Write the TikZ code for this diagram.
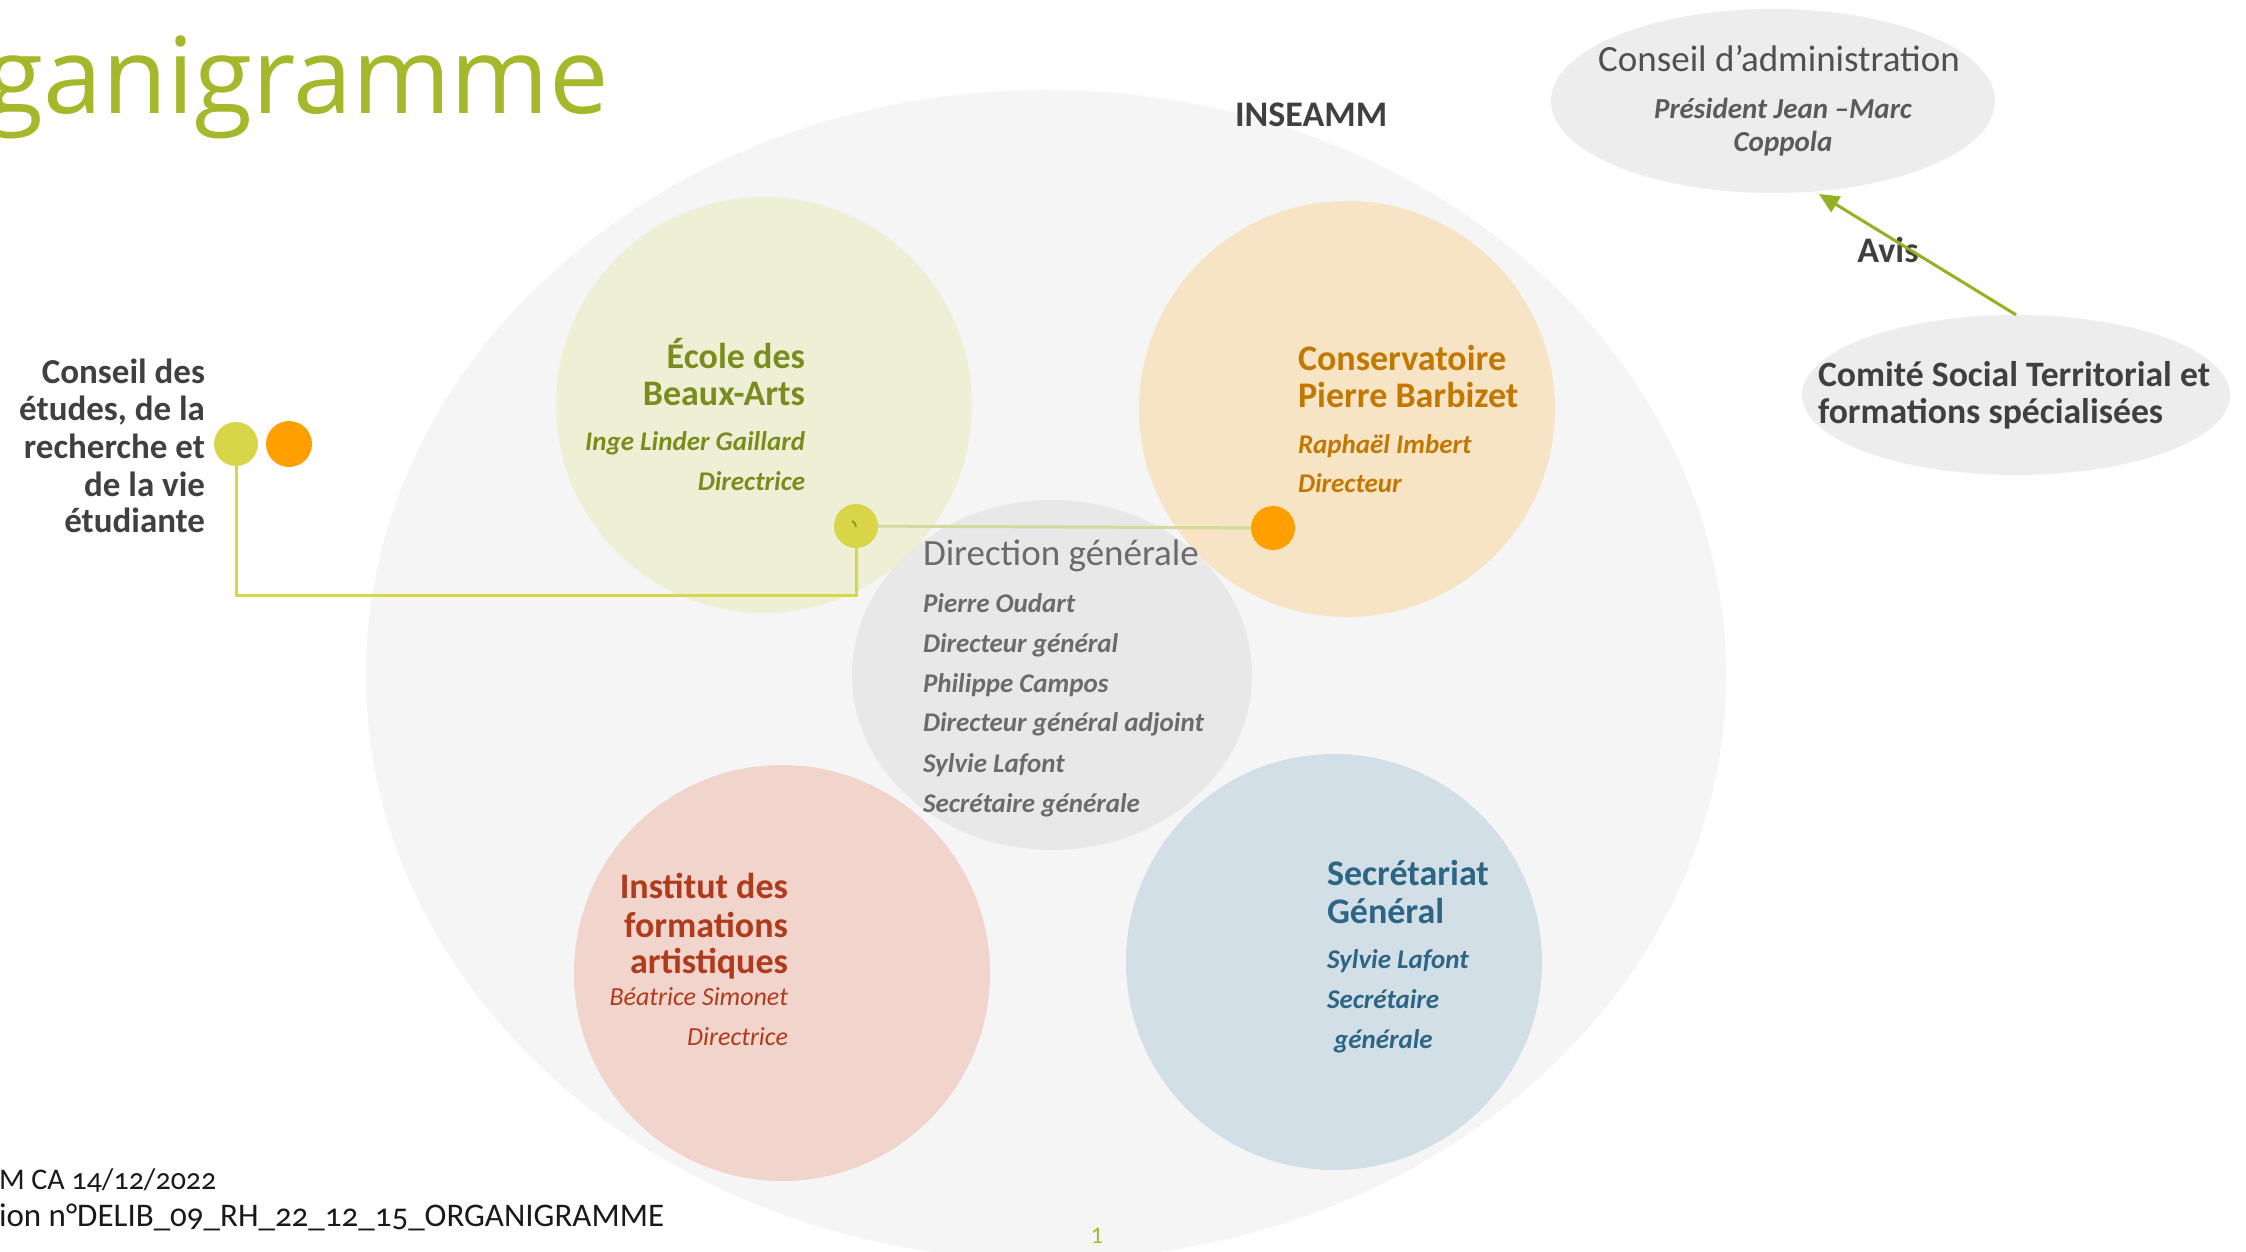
\documentclass[tikz,border=0pt]{standalone}
\usepackage{fontspec}
\setmainfont{Carlito}
\newfontfamily\titlefont{Open Sans}
\newfontfamily\footfont{Carlito}[Numbers=OldStyle]
\usetikzlibrary{arrows.meta,shapes.geometric}

\definecolor{bigbg}{HTML}{F5F5F5}
\definecolor{ellgray}{HTML}{EDEDED}
\definecolor{dggray}{HTML}{E8E8E8}
\definecolor{txtdark}{HTML}{404040}
\definecolor{txtmid}{HTML}{505050}
\definecolor{txtgray}{HTML}{6B6B6B}
\definecolor{titlegreen}{HTML}{A5B82B}
\definecolor{ecolefill}{HTML}{EEF0D6}
\definecolor{ecoletxt}{HTML}{7A8C1E}
\definecolor{consfill}{HTML}{F6E4C5}
\definecolor{constxt}{HTML}{C27800}
\definecolor{instfill}{HTML}{F1D4CC}
\definecolor{insttxt}{HTML}{B03A1C}
\definecolor{secfill}{HTML}{D2DFE7}
\definecolor{sectxt}{HTML}{2D6585}
\definecolor{dotgreen}{HTML}{D8D548}
\definecolor{dotorange}{HTML}{FFA000}
\definecolor{arrowgreen}{HTML}{95B021}
\definecolor{linepale}{HTML}{D5D99B}
\definecolor{ticko}{HTML}{8CA020}

\tikzset{
  unitcircle/.style={circle, minimum size=416pt, inner sep=0pt, draw=none},
  blob/.style={ellipse, inner sep=0pt, draw=none},
  dotnode/.style={circle, minimum size=44pt, inner sep=0pt, draw=none},
  lbl/.style={inner sep=0pt, outer sep=0pt},
  hd/.style={lbl, font=\fontsize{36}{40}\selectfont\bfseries},
  itb/.style={lbl, font=\fontsize{27}{30}\selectfont\bfseries\itshape},
  itr/.style={lbl, font=\fontsize{26}{30}\selectfont\itshape},
  side/.style={lbl, font=\fontsize{35}{38}\selectfont\bfseries, text=txtdark},
}

\begin{document}
\begin{tikzpicture}[x=1pt,y=-1pt]
\useasboundingbox (0,0) rectangle (2246,1252);
\clip (0,0) rectangle (2246,1252);
\fill[white] (0,0) rectangle (2246,1252);

% big INSEAMM ellipse
\node[blob, minimum width=1360pt, minimum height=1170pt, fill=bigbg] (inseamm) at (1046,675) {};

% units
\node[unitcircle, fill=ecolefill] (ecole) at (764,405) {};
\node[unitcircle, fill=consfill] (conserv) at (1347,409) {};
\node[unitcircle, fill=instfill] (institut) at (782,973) {};
\node[unitcircle, fill=secfill] (secretariat) at (1334,962) {};
\node[blob, minimum width=400pt, minimum height=350pt, fill=dggray] (dg) at (1052,675) {};

% outside ellipses
\node[blob, minimum width=444pt, minimum height=184pt, fill=ellgray] (ca) at (1773,101) {};
\node[blob, minimum width=428pt, minimum height=160pt, fill=ellgray] (comite) at (2016,395) {};

% title
\node[lbl, anchor=base east, font=\titlefont\fontsize{106}{110}\selectfont, text=titlegreen] (titre) at (609,114) {ganigramme};

\node[lbl, anchor=base west, font=\fontsize{36}{40}\selectfont\bfseries, text=txtdark] (inseammlbl) at (1235,127) {INSEAMM};

% Conseil d'administration
\node[lbl, anchor=base, font=\fontsize{37}{40}\selectfont, text=txtmid] (calbl) at (1779,72) {Conseil d’administration};
\node[lbl, anchor=base, font=\fontsize{29}{32}\selectfont\bfseries\itshape, text=txtgray!85!black] (capres) at (1783,119) {Président Jean –Marc};
\node[lbl, anchor=base, font=\fontsize{29}{32}\selectfont\bfseries\itshape, text=txtgray!85!black] (capres2) at (1783,152) {Coppola};

% Comite
\node[side, anchor=base west, font=\fontsize{35.7}{38}\selectfont\bfseries] (comite1) at (1818,386) {Comité Social Territorial et};
\node[side, anchor=base west, font=\fontsize{35.7}{38}\selectfont\bfseries] (comite2) at (1818,423) {formations spécialisées};

% Avis + arrow
\node[lbl, anchor=base, font=\fontsize{36}{40}\selectfont\bfseries, text=txtdark] (avis) at (1888,262) {Avis};
\coordinate (catip) at (1819,194);
\draw[arrowgreen, line width=3pt, -{Triangle[length=20pt,width=18pt]}] (comite.north) -- (catip);

% Conseil des etudes
\node[side, anchor=base east] (ce1) at (205,383) {Conseil des};
\node[side, anchor=base east] (ce2) at (205,420) {études, de la};
\node[side, anchor=base east] (ce3) at (205,458) {recherche et};
\node[side, anchor=base east] (ce4) at (205,496) {de la vie};
\node[side, anchor=base east] (ce5) at (205,532) {étudiante};

% Ecole
\node[hd, anchor=base east, text=ecoletxt] (ec1) at (805,368) {École des};
\node[hd, anchor=base east, text=ecoletxt] (ec2) at (805,405) {Beaux-Arts};
\node[itb, anchor=base east, text=ecoletxt] (ec3) at (805,450) {Inge Linder Gaillard};
\node[itb, anchor=base east, text=ecoletxt] (ec4) at (805,490) {Directrice};

% Conservatoire
\node[hd, anchor=base west, text=constxt] (co1) at (1298,370) {Conservatoire};
\node[hd, anchor=base west, text=constxt] (co2) at (1298,407) {Pierre Barbizet};
\node[itb, anchor=base west, text=constxt] (co3) at (1298,453) {Raphaël Imbert};
\node[itb, anchor=base west, text=constxt] (co4) at (1298,492) {Directeur};

% Direction generale
\node[lbl, anchor=base west, font=\fontsize{37}{40}\selectfont, text=txtgray] (dg0) at (923,565) {Direction générale};
\node[itb, anchor=base west, text=txtgray] (dg1) at (923,612) {Pierre Oudart};
\node[itb, anchor=base west, text=txtgray] (dg2) at (923,652) {Directeur général};
\node[itb, anchor=base west, text=txtgray] (dg3) at (923,692) {Philippe Campos};
\node[itb, anchor=base west, text=txtgray] (dg4) at (923,731) {Directeur général adjoint};
\node[itb, anchor=base west, text=txtgray] (dg5) at (923,772) {Sylvie Lafont};
\node[itb, anchor=base west, text=txtgray] (dg6) at (923,812) {Secrétaire générale};

% Institut
\node[hd, anchor=base east, text=insttxt] (in1) at (788,898) {Institut des};
\node[hd, anchor=base east, text=insttxt] (in2) at (788,937) {formations};
\node[hd, anchor=base east, text=insttxt] (in3) at (788,973) {artistiques};
\node[itr, anchor=base east, text=insttxt] (in4) at (788,1005) {Béatrice Simonet};
\node[itr, anchor=base east, text=insttxt] (in5) at (788,1045) {Directrice};

% Secretariat
\node[hd, anchor=base west, text=sectxt] (se1) at (1327,885) {Secrétariat};
\node[hd, anchor=base west, text=sectxt] (se2) at (1327,923) {Général};
\node[itb, anchor=base west, text=sectxt] (se3) at (1327,968) {Sylvie Lafont};
\node[itb, anchor=base west, text=sectxt] (se4) at (1327,1008) {Secrétaire};
\node[itb, anchor=base west, text=sectxt] (se5) at (1334,1048) {générale};

% dots and connectors
\node[dotnode, fill=dotgreen] (gdot1) at (236,444) {};
\node[dotnode, fill=dotorange, minimum size=46pt] (odot1) at (289,444) {};
\node[dotnode, fill=dotgreen] (gdot2) at (856,526) {};
\node[dotnode, fill=dotorange] (odot2) at (1273,528) {};
\coordinate (bendlevel) at (0,595);
\draw[dotgreen, line width=3pt] (gdot1) -- (gdot1 |- bendlevel) -- (gdot2 |- bendlevel) -- (gdot2);
\draw[linepale, line width=3pt] (gdot2) -- (odot2);
\draw[ticko, line width=2pt] (852,521) to[bend left=30] (856,527);

% footer
\node[lbl, anchor=base west, font=\footfont\fontsize{30}{34}\selectfont, text=black!90] (foot1) at (-1,1189) {M CA 14/12/2022};
\node[lbl, anchor=base west, font=\footfont\fontsize{33}{36}\selectfont, text=black!90] (foot2) at (-1,1226) {ion n°DELIB\_09\_RH\_22\_12\_15\_ORGANIGRAMME};
\node[lbl, anchor=base, font=\fontsize{24}{28}\selectfont, text=titlegreen] (pagenum) at (1097,1243) {1};
\end{tikzpicture}
\end{document}
